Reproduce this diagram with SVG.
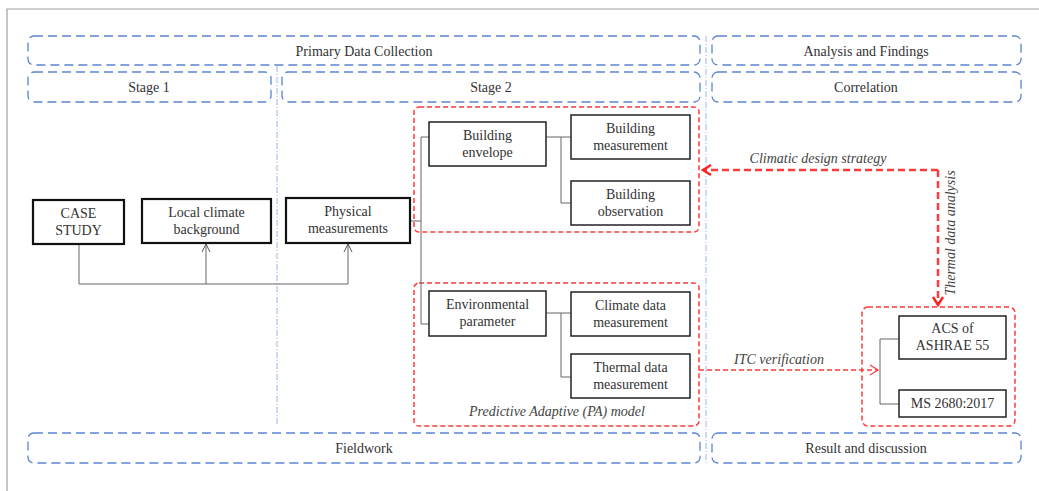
<svg xmlns="http://www.w3.org/2000/svg" width="1039" height="491" viewBox="0 0 1039 491">
<defs>
<style>
.frame{fill:none;stroke:#a0a0a0;stroke-width:1.2}
.blue{fill:none;stroke:#5b84d4;stroke-width:1.3;stroke-dasharray:9 5}
.sep{fill:none;stroke:#9ab6e8;stroke-width:1;stroke-dasharray:6 2 1 2}
.red{fill:none;stroke:#ff3b3b;stroke-width:1.5;stroke-dasharray:5 3}
.box{fill:#fff;stroke:#222;stroke-width:1.5}
.boxt{fill:#fff;stroke:#111;stroke-width:2.2}
.con{fill:none;stroke:#666;stroke-width:1}
.t{font-family:"Liberation Serif","Times New Roman",serif;font-size:14px;fill:#333;text-anchor:middle}
.i{font-family:"Liberation Serif","Times New Roman",serif;font-size:14px;fill:#444;font-style:italic;text-anchor:middle}
.rarrow{fill:none;stroke:#ff3b3b;stroke-width:2.5;stroke-dasharray:7 4}
.rthin{fill:none;stroke:#ff3b3b;stroke-width:1.5;stroke-dasharray:5 3}
</style>
<marker id="open" markerWidth="10" markerHeight="10" refX="9" refY="5" orient="auto" markerUnits="userSpaceOnUse">
<path d="M1,1 L9,5 L1,9" fill="none" stroke="#555" stroke-width="1"/>
</marker>
<marker id="redbig" markerWidth="14" markerHeight="14" refX="11" refY="7" orient="auto" markerUnits="userSpaceOnUse">
<path d="M3,2 L11,7 L3,12" fill="none" stroke="#ff2020" stroke-width="2.4"/>
</marker>
<marker id="redthin" markerWidth="14" markerHeight="14" refX="11" refY="7" orient="auto" markerUnits="userSpaceOnUse">
<path d="M3,2 L11,7 L3,12" fill="none" stroke="#ff3b3b" stroke-width="1.3"/>
</marker>
</defs>
<rect width="1039" height="491" fill="#fff"/>
<path class="frame" d="M7,491 V9 H1039"/>

<g id="sections">
<rect class="blue" x="28" y="36" width="672" height="29" rx="6"/>
<text class="t" x="364" y="55.5">Primary Data Collection</text>
<rect class="blue" x="28" y="72" width="243" height="30" rx="6"/>
<text class="t" x="149" y="92">Stage 1</text>
<rect class="blue" x="282" y="72" width="418" height="30" rx="6"/>
<text class="t" x="491" y="92">Stage 2</text>
<rect class="blue" x="712" y="36" width="309" height="29" rx="6"/>
<text class="t" x="866" y="55.5">Analysis and Findings</text>
<rect class="blue" x="712" y="72" width="309" height="30" rx="6"/>
<text class="t" x="866" y="92">Correlation</text>
<rect class="blue" x="28" y="433" width="672" height="30" rx="6"/>
<text class="t" x="364" y="453">Fieldwork</text>
<rect class="blue" x="712" y="433" width="309" height="30" rx="6"/>
<text class="t" x="866" y="453">Result and discussion</text>
<line class="sep" x1="277" y1="66" x2="277" y2="425"/>
<line class="sep" x1="706" y1="36" x2="706" y2="463"/>
</g>

<g id="groups">
<rect class="red" x="414" y="107" width="285" height="125" rx="5"/>
<rect class="red" x="414" y="283" width="285" height="143" rx="5"/>
<text class="i" x="557" y="416">Predictive Adaptive (PA) model</text>
<rect class="red" x="862" y="307" width="153" height="119" rx="6"/>
</g>

<g id="connectors">
<path class="con" d="M79,244 V284 H348"/>
<path class="con" d="M206,284 V244" marker-end="url(#open)"/>
<path class="con" d="M348,284 V244" marker-end="url(#open)"/>
<path class="con" d="M410,221 H421 M421,137 V324 M421,137 H429 M421,324 H429"/>
<path class="con" d="M546,137 H571 M561,137 V203 H571"/>
<path class="con" d="M546,313 H571 M561,313 V377 H571"/>
<path class="con" d="M899,339 H880 V404 H899"/>
<path class="rarrow" d="M938,170 H703" marker-end="url(#redbig)"/>
<path class="rarrow" d="M938,170 V305" marker-end="url(#redbig)"/>
<path class="rthin" d="M699,370 H878" marker-end="url(#redthin)"/>
<text class="i" x="818" y="163">Climatic design strategy</text>
<text class="i" x="0" y="0" transform="translate(955,233) rotate(-90)">Thermal data analysis</text>
<text class="i" x="779" y="364">ITC verification</text>
</g>

<g id="case-study">
<rect class="boxt" x="33" y="200" width="91" height="44"/>
<text class="t" x="78.5" y="218">CASE</text>
<text class="t" x="78.5" y="235">STUDY</text>
</g>
<g id="local-climate">
<rect class="boxt" x="142" y="199" width="129" height="44"/>
<text class="t" x="206.5" y="217">Local climate</text>
<text class="t" x="206.5" y="234">background</text>
</g>
<g id="physical">
<rect class="boxt" x="286" y="198" width="124" height="45"/>
<text class="t" x="348" y="216">Physical</text>
<text class="t" x="348" y="233">measurements</text>
</g>
<g id="building-envelope">
<rect class="box" x="429" y="122" width="117" height="44"/>
<text class="t" x="487.5" y="140">Building</text>
<text class="t" x="487.5" y="157">envelope</text>
</g>
<g id="building-measurement">
<rect class="box" x="571" y="115" width="119" height="44"/>
<text class="t" x="630.5" y="133">Building</text>
<text class="t" x="630.5" y="150">measurement</text>
</g>
<g id="building-observation">
<rect class="box" x="571" y="181" width="119" height="44"/>
<text class="t" x="630.5" y="199">Building</text>
<text class="t" x="630.5" y="216">observation</text>
</g>
<g id="environmental">
<rect class="box" x="429" y="291" width="117" height="45"/>
<text class="t" x="487.5" y="309">Environmental</text>
<text class="t" x="487.5" y="326">parameter</text>
</g>
<g id="climate-data">
<rect class="box" x="571" y="292" width="119" height="44"/>
<text class="t" x="630.5" y="310">Climate data</text>
<text class="t" x="630.5" y="327">measurement</text>
</g>
<g id="thermal-data">
<rect class="box" x="571" y="354" width="119" height="44"/>
<text class="t" x="630.5" y="372">Thermal data</text>
<text class="t" x="630.5" y="389">measurement</text>
</g>
<g id="acs">
<rect class="box" x="899" y="316" width="107" height="43"/>
<text class="t" x="952.5" y="333">ACS of</text>
<text class="t" x="952.5" y="350">ASHRAE 55</text>
</g>
<g id="ms">
<rect class="box" x="899" y="390" width="107" height="27"/>
<text class="t" x="952.5" y="408">MS 2680:2017</text>
</g>
</svg>
